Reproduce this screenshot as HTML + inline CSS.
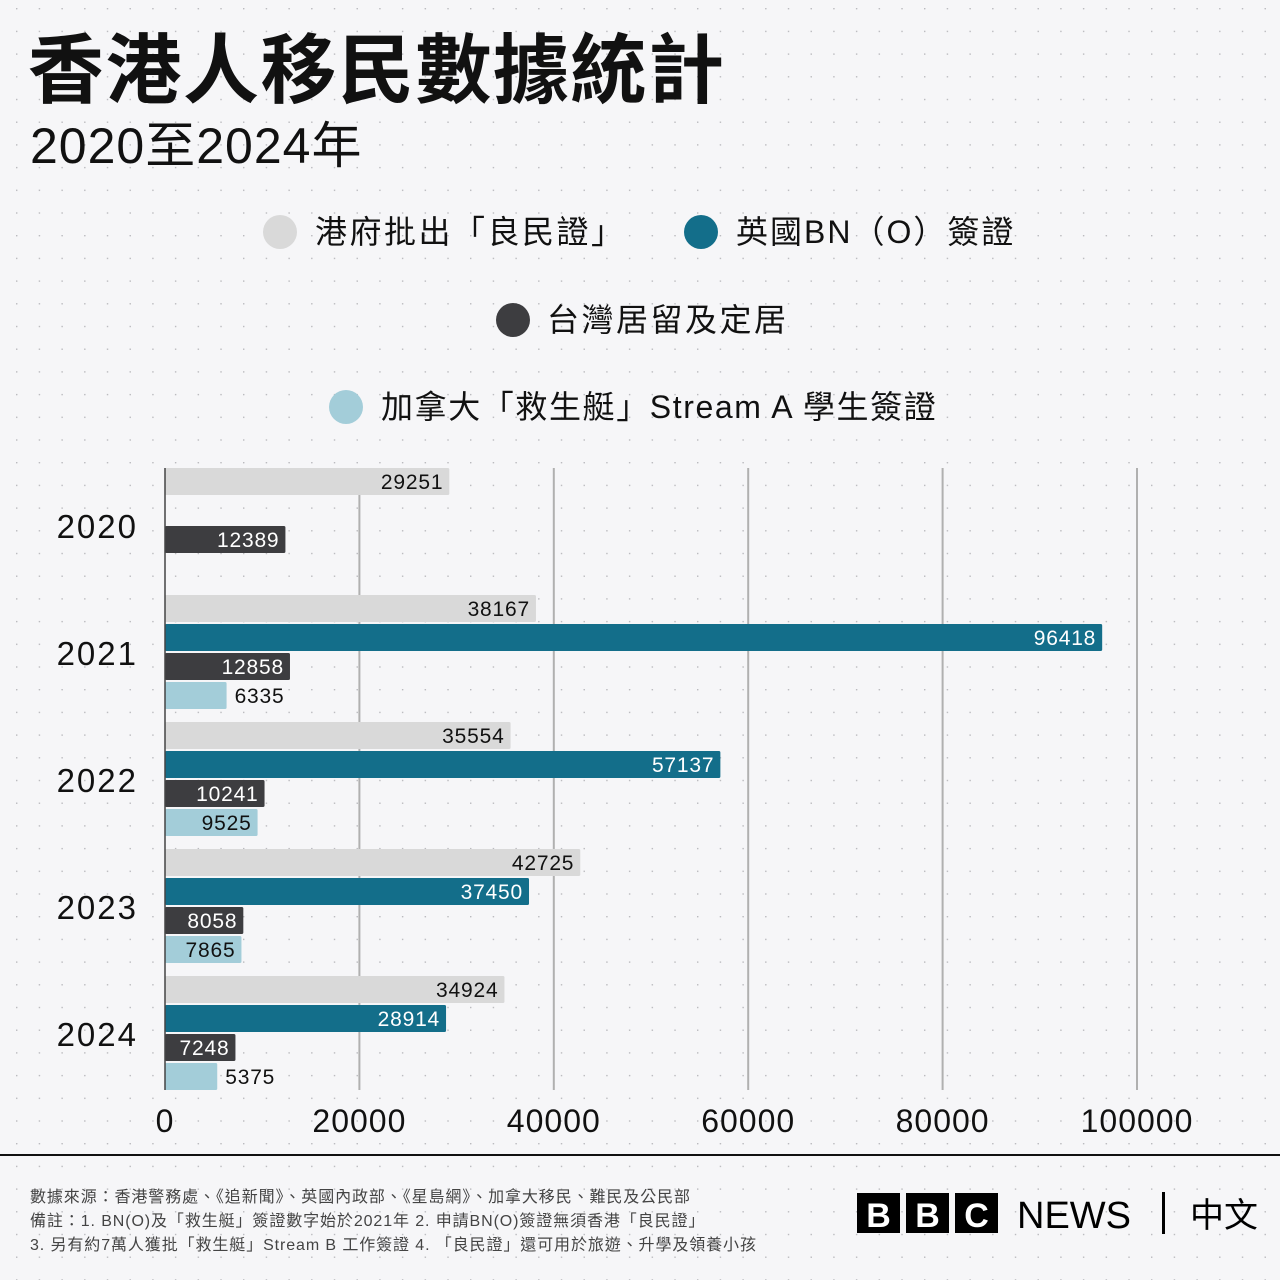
<!DOCTYPE html>
<html><head><meta charset="utf-8">
<style>
html,body{margin:0;padding:0;width:1280px;height:1280px;overflow:hidden;background:#f6f6f8;}
svg{display:block;font-family:"Liberation Sans","Noto Sans CJK TC",sans-serif;}
</style></head>
<body>
<svg id="chart" width="1280" height="1280" viewBox="0 0 1280 1280" xmlns="http://www.w3.org/2000/svg">
<defs>
<pattern id="dots" x="16" y="8" width="22.7" height="22.7" patternUnits="userSpaceOnUse">
<circle cx="0.7" cy="0.7" r="0.8" fill="#b8b8bc"/>
</pattern>
</defs>
<rect width="1280" height="1280" fill="#f6f6f8"/>
<rect width="1280" height="1280" fill="url(#dots)"/>
<text x="28" y="97" font-size="76" font-weight="bold" letter-spacing="1.5" fill="#111">香港人移民數據統計</text>
<text x="30" y="163" font-size="50" letter-spacing="1" fill="#111">2020至2024年</text>

<g font-size="32" fill="#111">
<g><circle cx="280" cy="232" r="17" fill="#d9d9d9"/><text x="315" y="243" letter-spacing="2.5">港府批出「良民證」</text></g>
<g><circle cx="701" cy="232" r="17" fill="#136e8a"/><text x="736" y="243" letter-spacing="2">英國BN（O）簽證</text></g>
<g><circle cx="513" cy="320" r="17" fill="#3d3d40"/><text x="547" y="331" letter-spacing="2.5">台灣居留及定居</text></g>
<g><circle cx="346" cy="407" r="17" fill="#a3cdd9"/><text x="381" y="418" letter-spacing="1.6">加拿大「救生艇」Stream A 學生簽證</text></g>
</g>

<g id="grid"></g>
<g id="bars"></g>
<g id="yaxis"></g>
<g id="xaxis"></g>

<line x1="0" y1="1155" x2="1280" y2="1155" stroke="#111" stroke-width="2"/>
<g font-size="16" fill="#444" letter-spacing="0.9">
<text x="30" y="1202">數據來源：香港警務處、《追新聞》、英國內政部、《星島網》、加拿大移民、難民及公民部</text>
<text x="30" y="1226">備註：1. BN(O)及「救生艇」簽證數字始於2021年 2. 申請BN(O)簽證無須香港「良民證」</text>
<text x="30" y="1250">3. 另有約7萬人獲批「救生艇」Stream B 工作簽證 4. 「良民證」還可用於旅遊、升學及領養小孩</text>
</g>
<g>
<rect x="857" y="1193" width="43" height="40" fill="#000"/><text x="878.5" y="1227" font-size="34" font-weight="bold" fill="#fff" text-anchor="middle">B</text>
<rect x="906" y="1193" width="43" height="40" fill="#000"/><text x="927.5" y="1227" font-size="34" font-weight="bold" fill="#fff" text-anchor="middle">B</text>
<rect x="955" y="1193" width="43" height="40" fill="#000"/><text x="976.5" y="1227" font-size="34" font-weight="bold" fill="#fff" text-anchor="middle">C</text>
<text x="1017" y="1228" font-size="38" fill="#000">NEWS</text>
<rect x="1162" y="1192" width="3" height="42" fill="#000"/>
<text x="1190" y="1227" font-size="34" fill="#000">中文</text>
</g>
</svg>
<script>
const years = ["2020","2021","2022","2023","2024"];
const goodCitizen = [29251, 38167, 35554, 42725, 34924];
const bnoVisa = [null, 96418, 57137, 37450, 28914];
const taiwan = [12389, 12858, 10241, 8058, 7248];
const canada = [null, 6335, 9525, 7865, 5375];
const xTicks = [0, 20000, 40000, 60000, 80000, 100000];

const NS = "http://www.w3.org/2000/svg";
const x0 = 165, x1 = 1137, xMax = 100000;
const xs = v => x0 + (v / xMax) * (x1 - x0);
const groupTop = i => 468 + i * 127;
const barH = 27, stride = 29;
const series = [
  {vals: goodCitizen, fill: "#d9d9d9", txt: "#111", name: "good-citizen"},
  {vals: bnoVisa, fill: "#136e8a", txt: "#fff", name: "bno"},
  {vals: taiwan, fill: "#3d3d40", txt: "#fff", name: "taiwan"},
  {vals: canada, fill: "#a3cdd9", txt: "#111", name: "canada"}
];
function el(tag, attrs, parent, text){
  const e = document.createElementNS(NS, tag);
  for (const k in attrs) e.setAttribute(k, attrs[k]);
  if (text !== undefined) e.textContent = text;
  parent.appendChild(e);
  return e;
}
const grid = document.getElementById("grid");
const bars = document.getElementById("bars");
const yaxis = document.getElementById("yaxis");
const xaxis = document.getElementById("xaxis");
xTicks.forEach(t => {
  if (t > 0) {
    const l = el("line", {x1: xs(t), x2: xs(t), y1: 468, y2: 1090, stroke: "#b0b0b0", "stroke-width": 2}, grid);
    
    
  }
  const tx = el("text", {x: xs(t), y: 1132, "font-size": 32, fill: "#111", "text-anchor": "middle", "letter-spacing": 1}, xaxis, String(t));
  
  
});
const ax = el("line", {x1: x0, x2: x0, y1: 468, y2: 1090, stroke: "#444", "stroke-width": 1.5}, yaxis);


years.forEach((y, i) => {
  const top = groupTop(i);
  const lab = el("text", {x: 138, y: top + 70, "font-size": 33, fill: "#111", "text-anchor": "end", "letter-spacing": 2}, yaxis, y);
  
  
  series.forEach((s, j) => {
    const v = s.vals[i];
    if (v === null) return;
    const by = top + j * stride;
    const w = xs(v) - x0;
    const r = el("rect", {x: x0, y: by, width: w, height: barH, fill: s.fill, rx: 1.5}, bars);
    
    
    const str = String(v);
    const tw = str.length * 12.5 + 12;
    const inside = w > tw + 4;
    const t = el("text", {
      x: inside ? xs(v) - 6 : xs(v) + 8, y: by + 21, "font-size": 21, "letter-spacing": 0.8,
      fill: inside ? s.txt : "#111", "text-anchor": inside ? "end" : "start"
    }, bars, str);
    
    
  });
});
</script>
</body></html>
